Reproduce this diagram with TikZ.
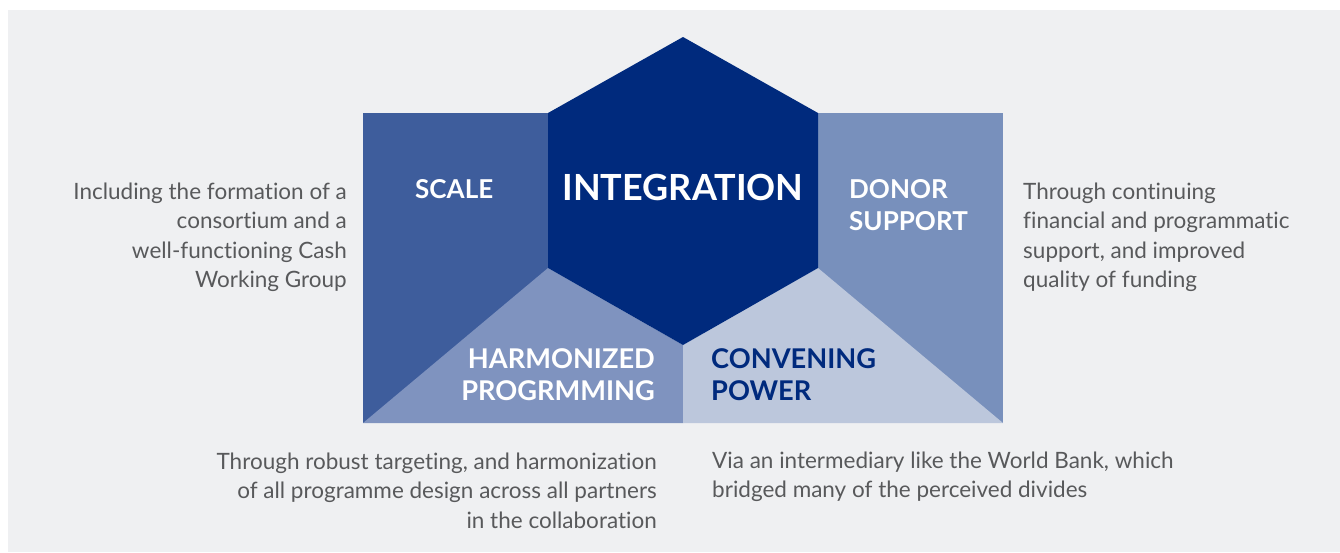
\documentclass[tikz,border=0pt]{standalone}
\usepackage{fontspec}
\setmainfont{Lato}[Ligatures={NoCommon}]
\definecolor{bgray}{HTML}{EFF0F2}
\definecolor{txtgray}{HTML}{58595B}
\definecolor{hexblue}{HTML}{002A7D}
\definecolor{leftblue}{HTML}{3E5D9C}
\definecolor{rightblue}{HTML}{7890BC}
\definecolor{harmblue}{HTML}{7F93BF}
\definecolor{convblue}{HTML}{BCC7DC}
\tikzset{
  desc/.style={inner sep=0pt, text=txtgray, font=\fontsize{22.5}{29.5}\selectfont},
  lbl/.style={inner sep=0pt, text=white, font=\fontsize{26}{32.5}\selectfont\bfseries},
  lblb/.style={inner sep=0pt, text=white, font=\fontsize{27.2}{32.5}\selectfont\bfseries},
}
\begin{document}
\begin{tikzpicture}[x=1pt,y=-1pt]
\useasboundingbox (0,0) rectangle (1340,552);
\fill[bgray] (8,10) rectangle (1340,552);
% panels
\fill[leftblue] (363,113) rectangle (548,423);
\fill[rightblue] (818,113) rectangle (1003,423);
\fill[harmblue] (363,423) -- (548,268) -- (683,345) -- (683,423) -- cycle;
\fill[convblue] (683,345) -- (818,268) -- (1003,423) -- (683,423) -- cycle;
\fill[hexblue] (683,37) -- (818,113) -- (818,268) -- (683,345) -- (548,268) -- (548,113) -- cycle;
% labels
\node[lbl, anchor=base west] (scale) at (415,198) {SCALE};
\node[lbl, anchor=base, font=\fontsize{36}{40}\selectfont\bfseries] (integ) at (683,200) {INTEGRATION};
\node[lbl, anchor=base west] (donor) at (849,198) {\begin{tabular}[t]{@{}l@{}}DONOR\\SUPPORT\end{tabular}};
\node[lblb, anchor=base east] (harm) at (655,368) {\begin{tabular}[t]{@{}r@{}}HARMONIZED\\PROGRMMING\end{tabular}};
\node[lblb, anchor=base west, text=hexblue] (conv) at (711,368) {\begin{tabular}[t]{@{}l@{}}CONVENING\\POWER\end{tabular}};
% descriptions
\node[desc, anchor=base east] (dscale) at (347,199) {\begin{tabular}[t]{@{}r@{}}Including the formation of a\\consortium and a\\well-functioning Cash\\Working Group\end{tabular}};
\node[desc, anchor=base west] (ddonor) at (1023,199) {\begin{tabular}[t]{@{}l@{}}Through continuing\\financial and programmatic\\support, and improved\\quality of funding\end{tabular}};
\node[desc, anchor=base east] (dharm) at (657,469) {\begin{tabular}[t]{@{}r@{}}Through robust targeting, and harmonization\\of all programme design across all partners\\in the collaboration\end{tabular}};
\node[desc, anchor=base west] (dconv) at (712,468) {\begin{tabular}[t]{@{}l@{}}Via an intermediary like the World Bank, which\\bridged many of the perceived divides\end{tabular}};
\end{tikzpicture}
\end{document}
